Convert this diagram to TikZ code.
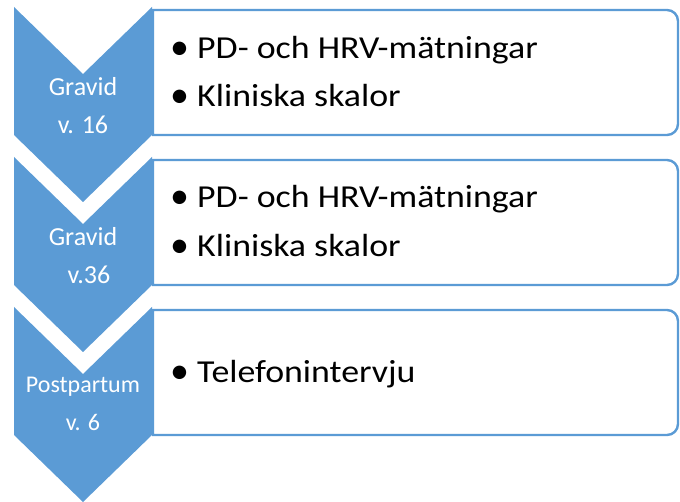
\documentclass[tikz,border=0pt]{standalone}
\usepackage{fontspec}
\setmainfont{Carlito}
\newfontfamily\itemfont[FakeStretch=1.12]{Carlito}
\definecolor{chev}{HTML}{5B9BD5}
\tikzset{
  chevron/.style={fill=chev, draw=none},
  listbox/.style={draw=chev, line width=2.4pt, fill=white},
  itemtxt/.style={anchor=base west, inner sep=0pt, font=\itemfont\fontsize{32}{36}\selectfont, text=black},
  bullettxt/.style={anchor=base west, inner sep=0pt, font=\fontsize{38}{40}\selectfont, text=black},
  chevtxt/.style={anchor=base, inner sep=0pt, text=white, font=\fontsize{26}{30}\selectfont},
  chevtxtsmall/.style={anchor=base, inner sep=0pt, text=white, font=\fontsize{24}{28}\selectfont}
}
\begin{document}
\begin{tikzpicture}[x=1pt,y=-1pt]
\useasboundingbox (0,0) rectangle (680,502);
% boxes
\foreach \o/\n in {0/b1,150/b2,300/b3}{
  \draw[listbox] (153,10+\o) -- (667,10+\o) arc[start angle=-90,end angle=0,radius=11] -- (678,124+\o) arc[start angle=0,end angle=90,radius=11] -- (153,135+\o) -- cycle;
}
% chevrons
\foreach \o/\n in {0/c1,150/c2,300/c3}{
  \fill[chevron] (14,7+\o) -- (83,74+\o) -- (152,7+\o) -- (152,135+\o) -- (83,202+\o) -- (14,135+\o) -- cycle;
}
% chevron labels
\node[chevtxt] (g1) at (83,96) {Gravid};
\node[chevtxt] (w1) at (83,134) {v. 16};
\node[chevtxt] (g2) at (83,246) {Gravid};
\node[chevtxt] (w2) at (89,284) {v.36};
\node[chevtxtsmall] (g3) at (83,393) {Postpartum};
\node[chevtxtsmall] (w3) at (83,431) {v. 6};
% items
\node[bullettxt] (p1) at (170,60) {•};
\node[itemtxt] (t1) at (197,59) {PD- och HRV-mätningar};
\node[bullettxt] (p2) at (170,108) {•};
\node[itemtxt] (t2) at (197,107) {Kliniska skalor};
\node[bullettxt] (p3) at (170,209) {•};
\node[itemtxt] (t3) at (197,208) {PD- och HRV-mätningar};
\node[bullettxt] (p4) at (170,258) {•};
\node[itemtxt] (t4) at (197,257) {Kliniska skalor};
\node[bullettxt] (p5) at (170,384) {•};
\node[itemtxt] (t5) at (197,383) {Telefonintervju};
\end{tikzpicture}
\end{document}
